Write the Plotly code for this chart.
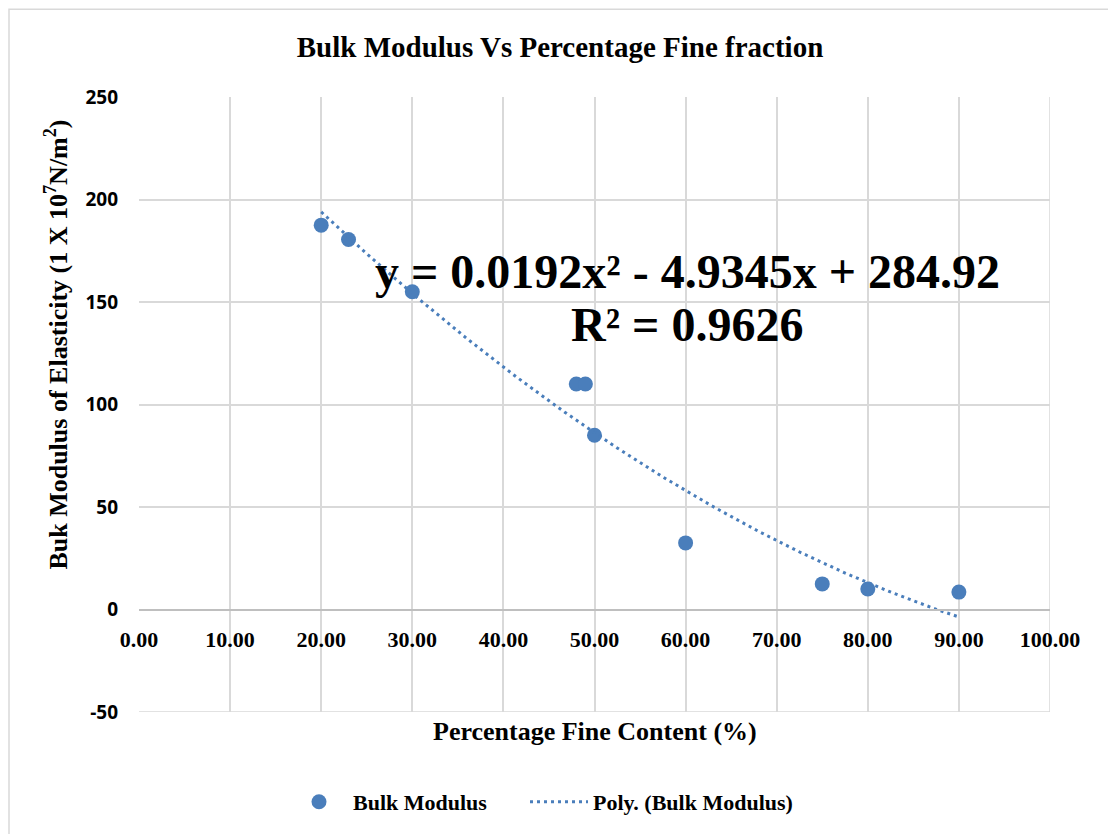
import numpy as np
import plotly.graph_objects as go

# Measured bulk modulus against fine content
fine_content = [20, 23, 30, 48, 49, 50, 60, 75, 80, 90]
bulk_modulus = [187.5, 180.5, 155, 110, 110, 85, 32.5, 12.5, 10, 8.5]

# Second-order polynomial trendline coefficients (a*x^2 + b*x + c) and fit quality
poly_a, poly_b, poly_c = 0.0192, -4.9345, 284.92
r_squared = 0.9626

x_ticks = [0, 10, 20, 30, 40, 50, 60, 70, 80, 90, 100]
y_ticks = [-50, 0, 50, 100, 150, 200, 250]

BLUE = "#4a7ebb"
GRID = "#d9d9d9"
SERIF = "Liberation Serif, Times New Roman, serif"
SANS = "Open Sans, DejaVu Sans, sans-serif"

trend_x = np.linspace(min(fine_content), max(fine_content), 200)
trend_y = poly_a * trend_x ** 2 + poly_b * trend_x + poly_c

fig = go.Figure()
fig.add_trace(go.Scatter(
    x=fine_content, y=bulk_modulus, mode="markers", name="<b>Bulk Modulus</b>",
    marker=dict(color=BLUE, size=15, line=dict(width=0)), legend="legend",
))
fig.add_trace(go.Scatter(
    x=trend_x, y=trend_y, mode="lines", name="<b>Poly. (Bulk Modulus)</b>",
    line=dict(color=BLUE, width=3, dash="3px,4px"), legend="legend2",
))

y_min, y_max = y_ticks[0], y_ticks[-1]
zero_pos = (0 - y_min) / (y_max - y_min)
legend_y = (713 - 802) / 616
legend_font = dict(family=SERIF, size=22, color="black")

fig.update_layout(
    width=1108, height=834,
    margin=dict(l=139, r=58, t=97, b=121),
    paper_bgcolor="white", plot_bgcolor="white",
    title=dict(text="<b>Bulk Modulus Vs Percentage Fine fraction</b>",
               x=560 / 1108, xanchor="center",
               y=1 - 47 / 834, yanchor="middle",
               font=dict(family=SERIF, size=29, color="black")),
    xaxis=dict(
        range=[x_ticks[0], x_ticks[-1]], tickvals=x_ticks,
        ticktext=[f"<b>{v:.2f}</b>" for v in x_ticks],
        tickfont=dict(family=SERIF, size=22, color="black"),
        showgrid=True, gridcolor=GRID, gridwidth=1.5,
        anchor="free", position=zero_pos,
        showline=True, linecolor="#bfbfbf", linewidth=2,
        ticks="", ticklabelstandoff=10, zeroline=False,
    ),
    yaxis=dict(
        range=[y_min, y_max], tickvals=y_ticks,
        ticktext=[f"<b>{v}</b>" for v in y_ticks],
        tickfont=dict(family=SANS, size=19, color="black"),
        showgrid=True, gridcolor=GRID, gridwidth=1.5,
        zeroline=False, showline=False, ticks="", ticklabelstandoff=20,
    ),
    legend=dict(orientation="h", x=(285 - 139) / 911, xanchor="left",
                y=legend_y, yanchor="middle", font=legend_font, itemwidth=58),
    legend2=dict(orientation="h", x=(525 - 139) / 911, xanchor="left",
                 y=legend_y, yanchor="middle", font=legend_font, itemwidth=58),
    showlegend=True,
)

# Border lines framing the plot area on the right and bottom
fig.add_shape(type="line", xref="x", yref="y", x0=x_ticks[-1], x1=x_ticks[-1],
              y0=y_min, y1=y_max, line=dict(color=GRID, width=1.5), layer="below")
fig.add_shape(type="line", xref="x", yref="y", x0=x_ticks[0], x1=x_ticks[-1],
              y0=y_min, y1=y_min, line=dict(color=GRID, width=1.5), layer="below")

# Outer chart frame
fig.add_shape(type="rect", xref="paper", yref="paper",
              x0=(9 - 139) / 911, x1=(1120 - 139) / 911,
              y0=(713 - 850) / 616, y1=(713 - 9) / 616,
              line=dict(color="#d9d9d9", width=1.5), layer="below")

# Axis titles
fig.add_annotation(text="<b>Percentage Fine Content (%)</b>", xref="paper", yref="paper",
                   x=(595 - 139) / 911, y=(713 - 733) / 616, xanchor="center", yanchor="middle",
                   showarrow=False, font=dict(family=SERIF, size=26, color="black"))
fig.add_annotation(text="<b>Buk Modulus of Elasticity (1 X 10<sup>7</sup>N/m<sup>2</sup>)</b>",
                   xref="paper", yref="paper", x=(57 - 139) / 911, y=(713 - 345) / 616,
                   xanchor="center", yanchor="middle", textangle=-90,
                   showarrow=False, font=dict(family=SERIF, size=26, color="black"))

# Trendline equation and R²
eq_line = f"<b>y = {poly_a}x² - {abs(poly_b)}x + {poly_c}</b>"
r2_line = f"<b>R² = {r_squared}</b>"
fig.add_annotation(text=eq_line, xref="paper", yref="paper",
                   x=(687 - 139) / 911, y=(713 - 272) / 616,
                   xanchor="center", yanchor="middle",
                   showarrow=False, font=dict(family=SERIF, size=48, color="black"))
fig.add_annotation(text=r2_line, xref="paper", yref="paper",
                   x=(687 - 139) / 911, y=(713 - 325) / 616,
                   xanchor="center", yanchor="middle",
                   showarrow=False, font=dict(family=SERIF, size=48, color="black"))

fig.write_html("out.html")
